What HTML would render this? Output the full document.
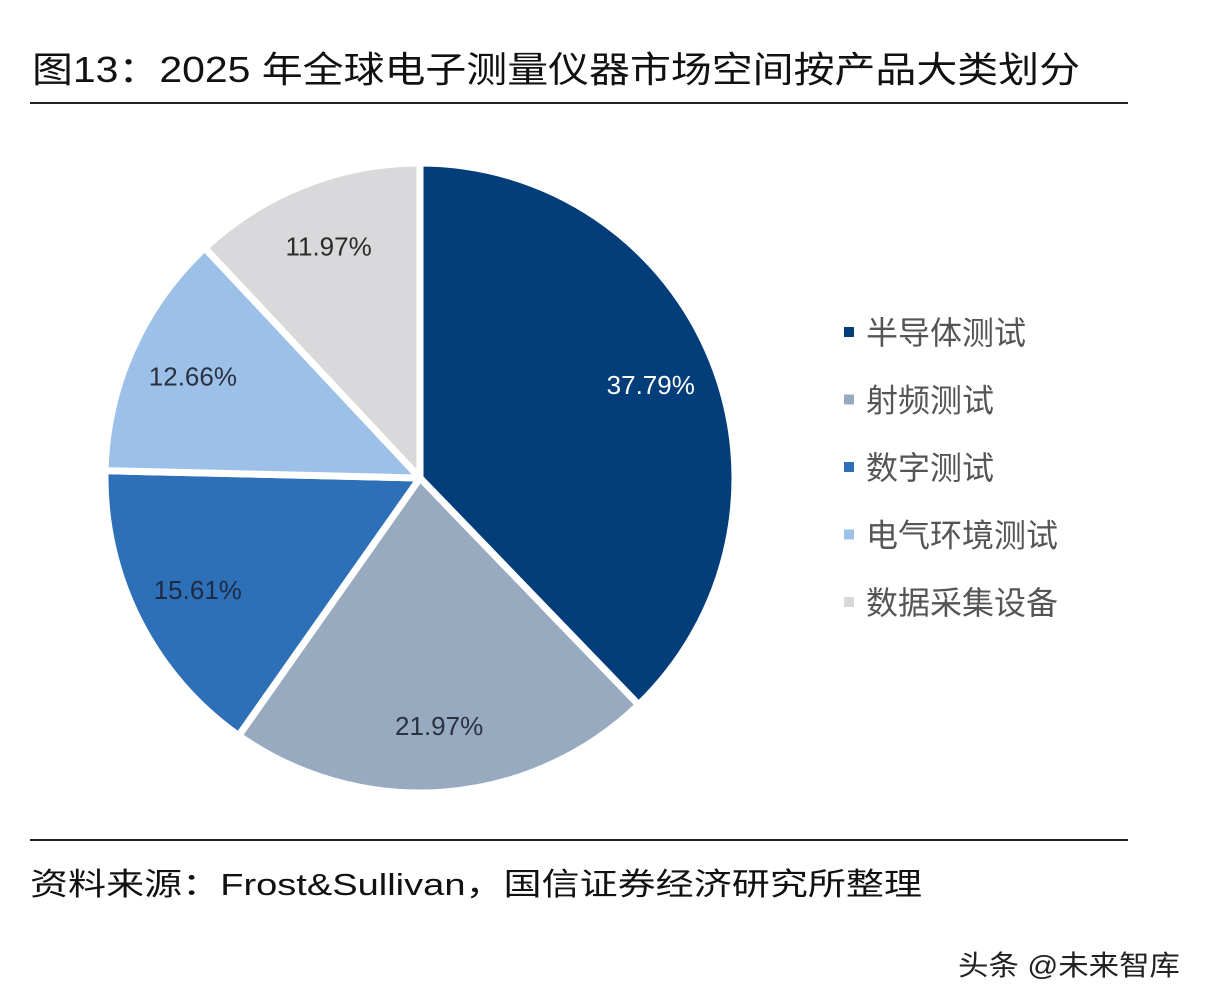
<!DOCTYPE html>
<html><head><meta charset="utf-8">
<style>
html,body{margin:0;padding:0;background:#fff;}
svg{display:block;}
text{font-family:"Liberation Sans","Noto Sans CJK SC",sans-serif;}
</style></head>
<body>
<svg id="chart" width="1208" height="1004" viewBox="0 0 1208 1004" xmlns="http://www.w3.org/2000/svg">
  <rect x="0" y="0" width="1208" height="1004" fill="#fff"/>
  <text x="32" y="82" font-size="36" fill="#111" textLength="1048" lengthAdjust="spacingAndGlyphs">图13：2025 年全球电子测量仪器市场空间按产品大类划分</text>
  <rect x="30" y="102" width="1098" height="2" fill="#222"/>
  <g id="slices"></g>
  <g id="labels"></g>
  <g id="legend"></g>
  <rect x="30" y="839" width="1098" height="2" fill="#222"/>
  <text x="30" y="895" font-size="31" fill="#111" textLength="892" lengthAdjust="spacingAndGlyphs">资料来源：Frost&amp;Sullivan，国信证券经济研究所整理</text>
  <text x="958" y="975" font-size="28" fill="#222" textLength="222" lengthAdjust="spacingAndGlyphs">头条 @未来智库</text>
</svg>
<script>
const categories = ["半导体测试", "射频测试", "数字测试", "电气环境测试", "数据采集设备"];
const values = [37.79, 21.97, 15.61, 12.66, 11.97];
const valueLabels = ["37.79%", "21.97%", "15.61%", "12.66%", "11.97%"];
const colors = ["#033e7a", "#98aac0", "#2e70b8", "#9cc0e8", "#d9d9db"];
const labelColors = ["#ffffff", "#2a3140", "#1e2a44", "#2a3140", "#2a2a2a"];

const NS = "http://www.w3.org/2000/svg";
const cx = 420, cy = 478, R = 315;
const total = values.reduce((a, b) => a + b, 0);
function angleOf(v) { return v / total * Math.PI * 2; }
function pt(a, r) { return [cx + r * Math.sin(a), cy - r * Math.cos(a)]; }

const gS = document.getElementById('slices');
const gL = document.getElementById('labels');
const gLeg = document.getElementById('legend');
let start = 0;
values.forEach((v, i) => {
  const a = angleOf(v);
  const end = start + a;
  const p0 = pt(start, R), p1 = pt(end, R);
  const large = a > Math.PI ? 1 : 0;
  const path = document.createElementNS(NS, 'path');
  path.setAttribute('d', `M${cx},${cy} L${p0[0]},${p0[1]} A${R},${R} 0 ${large} 1 ${p1[0]},${p1[1]} Z`);
  path.setAttribute('fill', colors[i]);
  path.setAttribute('stroke', '#fff');
  path.setAttribute('stroke-width', '7');
  path.setAttribute('stroke-linejoin', 'round');
  
  
  gS.appendChild(path);

  const mid = start + a / 2;
  const lp = pt(mid, R * 0.79);
  const t = document.createElementNS(NS, 'text');
  t.setAttribute('x', lp[0]);
  t.setAttribute('y', lp[1] + 9);
  t.setAttribute('text-anchor', 'middle');
  t.setAttribute('font-size', '26');
  t.setAttribute('fill', labelColors[i]);
  t.textContent = valueLabels[i];
  
  
  gL.appendChild(t);
  start = end;
});

categories.forEach((c, i) => {
  const y = 332 + i * 67.5;
  const sq = document.createElementNS(NS, 'rect');
  sq.setAttribute('x', 844); sq.setAttribute('y', y - 5);
  sq.setAttribute('width', 10); sq.setAttribute('height', 10);
  sq.setAttribute('fill', colors[i]);
  
  
  gLeg.appendChild(sq);
  const t = document.createElementNS(NS, 'text');
  t.setAttribute('x', 866); t.setAttribute('y', y + 12);
  t.setAttribute('font-size', '32');
  t.setAttribute('fill', '#555');
  t.textContent = c;
  
  
  gLeg.appendChild(t);
});
</script>
</body></html>
